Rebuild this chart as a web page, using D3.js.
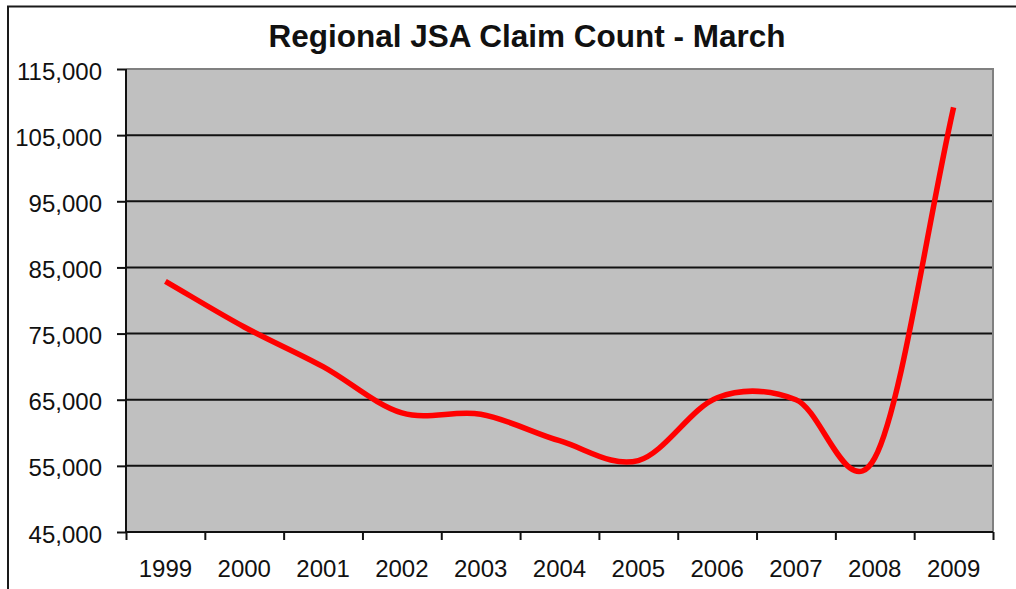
<!DOCTYPE html>
<html>
<head>
<meta charset="utf-8">
<script src="https://cdn.jsdelivr.net/npm/d3@7"></script>
<style>
  body { margin: 0; background: #fff; }
  text { font-family: "Liberation Sans", Arial, sans-serif; fill: #111; }
</style>
</head>
<body>
<div id="chart"></div>
<script>
// March claim counts, one value per year
const years = [1999, 2000, 2001, 2002, 2003, 2004, 2005, 2006, 2007, 2008, 2009];
const claims = [82900, 76000, 70000, 63000, 62800, 58800, 55800, 65300, 65000, 56200, 109200];
const yTicks = [45000, 55000, 65000, 75000, 85000, 95000, 105000, 115000];

const width = 1016, height = 589;
const plot = { left: 126, right: 993, top: 69, bottom: 532 };

const svg = d3.select("#chart")
    .append("svg")
    .attr("width", width)
    .attr("height", height);

svg.append("rect").attr("width", width).attr("height", height).attr("fill", "#fff");

// outer frame (top and left edges only)
svg.append("path")
    .attr("d", `M8,589V6.5H1016`)
    .attr("fill", "none")
    .attr("stroke", "#1a1a1a")
    .attr("stroke-width", 2);

const x = d3.scaleLinear()
    .domain([years[0] - 0.5, years[years.length - 1] + 0.5])
    .range([plot.left, plot.right]);

const y = d3.scaleLinear()
    .domain([45000, 115000])
    .range([plot.bottom, plot.top]);

// plot background
svg.append("rect")
    .attr("x", plot.left)
    .attr("y", plot.top)
    .attr("width", plot.right - plot.left)
    .attr("height", plot.bottom - plot.top)
    .attr("fill", "#c0c0c0");

// gridlines
svg.append("g")
    .selectAll("line")
    .data(yTicks.slice(1, -1))
    .join("line")
    .attr("x1", plot.left)
    .attr("x2", plot.right)
    .attr("y1", d => y(d))
    .attr("y2", d => y(d))
    .attr("stroke", "#111")
    .attr("stroke-width", 2);

// grey border top and right
svg.append("path")
    .attr("d", `M${plot.left},${plot.top}H${plot.right}V${plot.bottom}`)
    .attr("fill", "none")
    .attr("stroke", "#808080")
    .attr("stroke-width", 2);

// y axis
const yAxis = svg.append("g")
    .attr("transform", `translate(${plot.left},0)`)
    .call(d3.axisLeft(y)
        .tickValues(yTicks)
        .tickSize(9)
        .tickPadding(15)
        .tickFormat(d3.format(",")));
yAxis.selectAll("text")
    .attr("dy", "0.42em")
    .style("font-size", "24px")
    .style("font-family", "'Liberation Sans', Arial, sans-serif")
    .attr("fill", "#111");
yAxis.selectAll("line, path").attr("stroke", "#111").attr("stroke-width", 2);
yAxis.select(".domain").attr("d", `M0,${plot.top}V${plot.bottom}`);

// x axis: ticks between years, labels centred on years
const xAxis = svg.append("g")
    .attr("transform", `translate(0,${plot.bottom})`)
    .call(d3.axisBottom(x)
        .tickValues(d3.range(years[0] - 0.5, years[years.length - 1] + 1, 1))
        .tickSize(8)
        .tickFormat(""));
xAxis.selectAll("line, path").attr("stroke", "#111").attr("stroke-width", 2);
xAxis.select(".domain").attr("d", `M${plot.left},0H${plot.right}`);

svg.append("g")
    .selectAll("text")
    .data(years)
    .join("text")
    .attr("x", d => x(d))
    .attr("y", 577)
    .attr("text-anchor", "middle")
    .style("font-size", "24px")
    .text(d => d);

// smoothed line, spreadsheet style: catmull-rom inside, longer handles at the ends
function smoothPath(pts) {
    const p = d3.path();
    p.moveTo(pts[0][0], pts[0][1]);
    for (let i = 0; i < pts.length - 1; i++) {
        const a = pts[i - 1], b = pts[i], c = pts[i + 1], d = pts[i + 2];
        const c1 = a
            ? [b[0] + (c[0] - a[0]) / 6, b[1] + (c[1] - a[1]) / 6]
            : [b[0] + (c[0] - b[0]) / 3, b[1] + (c[1] - b[1]) / 3];
        const c2 = d
            ? [c[0] - (d[0] - b[0]) / 6, c[1] - (d[1] - b[1]) / 6]
            : [c[0] - (c[0] - b[0]) / 3, c[1] - (c[1] - b[1]) / 3];
        p.bezierCurveTo(c1[0], c1[1], c2[0], c2[1], c[0], c[1]);
    }
    return p.toString();
}

const points = claims.map((v, i) => [x(years[i]), y(v)]);

svg.append("path")
    .attr("d", smoothPath(points))
    .attr("fill", "none")
    .attr("stroke", "#ff0000")
    .attr("stroke-width", 5.5)
    .attr("stroke-linejoin", "round");

// title
svg.append("text")
    .attr("x", 527)
    .attr("y", 47)
    .attr("text-anchor", "middle")
    .style("font-size", "31.5px")
    .style("font-weight", "bold")
    .text("Regional JSA Claim Count - March");
</script>
</body>
</html>
